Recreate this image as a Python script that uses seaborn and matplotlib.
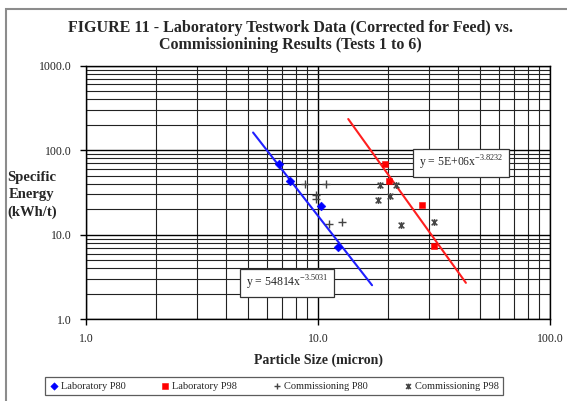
import numpy as np
import pandas as pd
import seaborn as sns
import matplotlib.pyplot as plt
from matplotlib.path import Path
from matplotlib.patches import Rectangle
from matplotlib.ticker import LogLocator, FuncFormatter, NullFormatter

# ---- data ----
lab_p80_size = [6.8, 7.6, 10.3, 12.2]
lab_p80_energy = [68.0, 43.0, 21.7, 7.1]

lab_p98_size = [19.5, 20.2, 28.1, 31.7]
lab_p98_energy = [68.0, 43.6, 22.3, 7.3]

com_p80_size = [8.8, 10.8, 9.8, 9.8, 11.2, 12.7]
com_p80_energy = [39.4, 39.7, 29.4, 26.8, 13.3, 14.0]

com_p98_size = [18.5, 21.7, 18.1, 20.5, 22.9, 31.7]
com_p98_energy = [38.6, 39.1, 25.6, 28.9, 12.9, 14.2]

# trendline end points (power fits, straight on log-log)
fit_p80_size = [5.25, 17.1]
fit_p80_energy = [162.0, 2.53]
fit_p98_size = [13.5, 43.4]
fit_p98_energy = [234.0, 2.7]

eq_p80 = "y = 54814x$^{\\mathregular{-3.5031}}$"
eq_p98 = "y = 5E+06x$^{\\mathregular{-3.8232}}$"

sns.set_theme(style="white")
plt.rcParams['font.family'] = ['Liberation Serif', 'DejaVu Serif']
plt.rcParams['mathtext.fontset'] = 'custom'
plt.rcParams['mathtext.rm'] = 'Liberation Serif'

fig = plt.figure(figsize=(5.67, 4.01), dpi=100)
fig.patch.set_facecolor('white')
ax = fig.add_axes([0.1517, 0.2037, 0.8183, 0.6325])

# outer chart frame (cut off at right and bottom)
fig.add_artist(Rectangle((6 / 567, -0.2), 1.2, 1.2 - 9 / 401,
                         transform=fig.transFigure, fill=False,
                         edgecolor='#8c8c8c', linewidth=1.5, clip_on=False))

star = Path([(-1, -1), (1, 1), (-1, 1), (1, -1), (0, -1.2), (0, 1.2)],
            [Path.MOVETO, Path.LINETO, Path.MOVETO, Path.LINETO,
             Path.MOVETO, Path.LINETO])

ax.set_xscale('log')
ax.set_yscale('log')
ax.set_xlim(1, 100)
ax.set_ylim(1, 1000)

# grid
ax.xaxis.set_major_locator(LogLocator(base=10))
ax.yaxis.set_major_locator(LogLocator(base=10))
ax.xaxis.set_minor_locator(LogLocator(base=10, subs=np.arange(2, 10)))
ax.yaxis.set_minor_locator(LogLocator(base=10, subs=np.arange(2, 10)))
ax.grid(which='major', color='black', linewidth=1.0)
ax.grid(which='minor', color='#222222', linewidth=0.8)
ax.set_axisbelow(True)

sns.lineplot(x=fit_p80_size, y=fit_p80_energy, color='#1f1fff', linewidth=1.5,
             ax=ax, legend=False)
sns.lineplot(x=fit_p98_size, y=fit_p98_energy, color='#ff1f1f', linewidth=1.5,
             ax=ax, legend=False)

sns.scatterplot(x=lab_p80_size, y=lab_p80_energy, marker='D', s=20, color='#0000ff',
                edgecolor='#0000ff', label='Laboratory P80', ax=ax, zorder=5)
sns.scatterplot(x=lab_p98_size, y=lab_p98_energy, marker='s', s=22, color='#ff0000',
                edgecolor='#ff0000', label='Laboratory P98', ax=ax, zorder=5)
sns.scatterplot(x=com_p80_size, y=com_p80_energy, marker='+', s=34, color='#444444',
                linewidth=1.0, label='Commissioning P80', ax=ax, zorder=5)
sns.scatterplot(x=com_p98_size, y=com_p98_energy, marker=star, s=24, color='#444444',
                edgecolor='#444444', linewidth=1.1, label='Commissioning P98', ax=ax,
                zorder=5)

for s in ax.spines.values():
    s.set_color('black')
    s.set_linewidth(1.0)

fmt = FuncFormatter(lambda v, p: '{:.1f}'.format(v))
ax.xaxis.set_major_formatter(fmt)
ax.yaxis.set_major_formatter(fmt)
ax.xaxis.set_minor_formatter(NullFormatter())
ax.yaxis.set_minor_formatter(NullFormatter())
ax.tick_params(which='major', direction='out', length=4, width=1, color='black',
               labelsize=8.5, labelcolor='#222222', bottom=True, left=True, pad=6)
ax.tick_params(which='minor', length=0)

ax.set_xlabel('Particle Size (micron)', fontsize=10, fontweight='bold', labelpad=6)
ax.set_ylabel('')
fig.text(32 / 567, 1 - 195 / 401, 'Specific\nEnergy\n(kWh/t)', fontsize=10.5,
         fontweight='bold', ha='center', va='center', linespacing=1.45)

fig.text(290 / 567, 1 - 28 / 401,
         'FIGURE 11 - Laboratory Testwork Data (Corrected for Feed) vs.',
         fontsize=11.5, fontweight='bold', ha='center', va='center')
fig.text(290 / 567, 1 - 45 / 401, 'Commissionining Results (Tests 1 to 6)',
         fontsize=11.5, fontweight='bold', ha='center', va='center')

box = dict(boxstyle='square,pad=0.45', facecolor='white', edgecolor='#333333',
           linewidth=0.9)
fig.text(287 / 567, 1 - 283 / 401, eq_p80, fontsize=8.5, ha='center', va='center',
         bbox=box, zorder=10)
fig.text(461 / 567, 1 - 163 / 401, eq_p98, fontsize=8.5, ha='center', va='center',
         bbox=box, zorder=10)

leg = ax.legend(loc='center', bbox_to_anchor=(274 / 567, 1 - 386 / 401),
                bbox_transform=fig.transFigure, ncol=4, fontsize=7.5,
                frameon=True, fancybox=False, edgecolor='#333333',
                handlelength=0.8, handletextpad=0.3, columnspacing=3.4,
                borderpad=0.45, markerscale=0.85)
leg.get_frame().set_linewidth(0.9)

fig.savefig('out.png', dpi=100, facecolor='white')
